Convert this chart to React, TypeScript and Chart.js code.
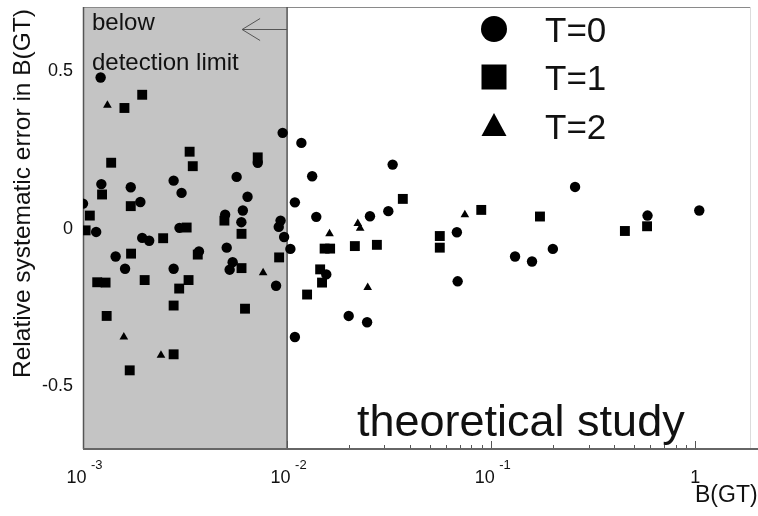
import React, { useEffect, useRef } from 'react';
import { Chart, registerables } from 'chart.js';

Chart.register(...registerables);

// ---- data (B(GT), relative systematic error) ----
const t0B = [0.00122, 0.00951, 0.01175, 0.01327, 0.0329, 0.2576, 0.00718, 0.00123, 0.001714, 0.00278, 0.00566, 0.00304, 0.0064, 0.01092, 0.001, 0.00191, 0.00497, 0.00607, 0.00597, 0.00929, 0.0091, 0.00967, 0.01038, 0.00116, 0.00297, 0.00195, 0.00211, 0.001445, 0.0037, 0.00506, 0.00541, 0.00523, 0.001607, 0.00278, 0.00883, 0.01092, 0.0139, 0.02547, 0.03133, 0.01556, 0.02004, 0.02466, 0.0679, 0.0685, 0.1309, 0.1585, 0.2005, 0.5834, 1.046];
const t0Err = [0.481, 0.305, 0.273, 0.167, 0.204, 0.133, 0.21, 0.142, 0.132, 0.153, 0.165, 0.114, 0.102, 0.084, 0.08, 0.085, 0.045, 0.058, 0.021, 0.026, 0.006, -0.026, -0.064, -0.01, 0.003, -0.029, -0.038, -0.088, -0.072, -0.06, -0.106, -0.13, -0.127, -0.127, -0.181, -0.344, 0.038, 0.04, 0.056, -0.145, -0.277, -0.297, -0.011, -0.167, -0.088, -0.104, -0.064, 0.042, 0.058];

const t1B = [0.001596, 0.00195, 0.001374, 0.00333, 0.00345, 0.00718, 0.00124, 0.001714, 0.00108, 0.00493, 0.00598, 0.00103, 0.00322, 0.00247, 0.00172, 0.00365, 0.00598, 0.00914, 0.001174, 0.00129, 0.002005, 0.00329, 0.00296, 0.00278, 0.00622, 0.001306, 0.00278, 0.001694, 0.0369, 0.01527, 0.01625, 0.02148, 0.02754, 0.01452, 0.01483, 0.01253, 0.056, 0.056, 0.0894, 0.1734, 0.452, 0.5805];
const t1Err = [0.384, 0.426, 0.21, 0.245, 0.199, 0.227, 0.109, 0.072, 0.042, 0.026, -0.016, -0.005, 0.004, -0.03, -0.079, -0.082, -0.125, -0.091, -0.17, -0.171, -0.163, -0.163, -0.19, -0.244, -0.254, -0.277, -0.399, -0.45, 0.095, -0.063, -0.063, -0.055, -0.051, -0.129, -0.171, -0.209, -0.023, -0.06, 0.06, 0.039, -0.007, 0.008];

const t2B = [0.001317, 0.00763, 0.001585, 0.00241, 0.0222, 0.0228, 0.01614, 0.02483, 0.0743];
const t2Err = [0.393, -0.14, -0.344, -0.402, 0.017, 0.002, -0.016, -0.187, 0.045];

const seriesLabels = ['T=0', 'T=1', 'T=2'];

// ---- axes ----
const xMajorTicks = [0.001, 0.01, 0.1, 1];
const xTickBases = ['10', '10', '10', '1'];
const xTickExps = ['-3', '-2', '-1', ''];
const xMinorTicks = [0.002, 0.003, 0.004, 0.005, 0.006, 0.007, 0.008, 0.009, 0.02, 0.03, 0.04, 0.05, 0.06, 0.07, 0.08, 0.09, 0.2, 0.3, 0.4, 0.5, 0.6, 0.7, 0.8, 0.9];
const yTickValues = [0.5, 0, -0.5];
const yTickLabels = ['0.5', '0', '-0.5'];
const detectionLimit = 0.01;

const FONT = '"Liberation Sans", Arial, Helvetica, sans-serif';
const INK = '#111';

function toPoints(xs: number[], ys: number[]) {
  return xs.map((v, i) => ({ x: v, y: ys[i] }));
}

const decorPlugin = {
  id: 'decor',
  beforeDatasetsDraw(chart: any) {
    const { ctx, chartArea: a, scales } = chart;
    const x = scales.x;
    ctx.save();
    // tick marks (inside)
    ctx.strokeStyle = '#555';
    ctx.lineWidth = 1;
    xMinorTicks.forEach((v) => {
      const px = Math.round(x.getPixelForValue(v)) + 0.5;
      ctx.beginPath();
      ctx.moveTo(px, a.bottom);
      ctx.lineTo(px, a.bottom - 4);
      ctx.stroke();
    });
    xMajorTicks.forEach((v) => {
      const px = Math.round(x.getPixelForValue(v)) + 0.5;
      ctx.beginPath();
      ctx.moveTo(px, a.bottom);
      ctx.lineTo(px, a.bottom - 8);
      ctx.stroke();
    });
    // shaded region below detection limit
    const gx = x.getPixelForValue(detectionLimit);
    ctx.fillStyle = '#c4c4c4';
    ctx.fillRect(a.left, a.top, gx - a.left, a.bottom - a.top);
    // frame lines
    ctx.strokeStyle = '#8a8a8a';
    ctx.lineWidth = 1;
    ctx.beginPath();
    ctx.moveTo(a.left, a.top + 0.5);
    ctx.lineTo(a.right, a.top + 0.5);
    ctx.stroke();
    ctx.strokeStyle = '#dcdcdc';
    ctx.beginPath();
    ctx.moveTo(a.right - 0.5, a.top);
    ctx.lineTo(a.right - 0.5, a.bottom);
    ctx.stroke();
    ctx.strokeStyle = '#555';
    ctx.lineWidth = 1.5;
    ctx.beginPath();
    ctx.moveTo(gx, a.top);
    ctx.lineTo(gx, a.bottom);
    ctx.stroke();
    ctx.beginPath();
    ctx.moveTo(a.left + 0.5, a.top);
    ctx.lineTo(a.left + 0.5, a.bottom);
    ctx.stroke();
    ctx.strokeStyle = '#666';
    ctx.lineWidth = 2;
    ctx.beginPath();
    ctx.moveTo(a.left, a.bottom);
    ctx.lineTo(chart.width, a.bottom);
    ctx.stroke();
    // arrow pointing into the shaded region
    ctx.strokeStyle = '#555';
    ctx.lineWidth = 1;
    const ay = a.top + 22.5;
    ctx.beginPath();
    ctx.moveTo(gx, ay);
    ctx.lineTo(gx - 45, ay);
    ctx.moveTo(gx - 27, ay - 11);
    ctx.lineTo(gx - 45, ay);
    ctx.lineTo(gx - 27, ay + 11);
    ctx.stroke();
    // annotation text
    ctx.fillStyle = INK;
    ctx.font = `24px ${FONT}`;
    ctx.textAlign = 'left';
    ctx.textBaseline = 'alphabetic';
    ctx.fillText('below', a.left + 9, 30);
    ctx.fillText('detection limit', a.left + 9, 70);
    ctx.restore();
  },
  afterDatasetsDraw(chart: any) {
    const { ctx, chartArea: a, scales } = chart;
    const x = scales.x;
    const y = scales.y;
    ctx.save();
    ctx.fillStyle = INK;
    // x tick labels with superscripts
    xMajorTicks.forEach((v, i) => {
      const px = x.getPixelForValue(v);
      if (xTickExps[i]) {
        ctx.font = `18px ${FONT}`;
        ctx.textAlign = 'right';
        ctx.fillText(xTickBases[i], px + 3.5, 483);
        ctx.font = `13px ${FONT}`;
        ctx.textAlign = 'left';
        ctx.fillText(xTickExps[i], px + 8, 469);
      } else {
        ctx.font = `18px ${FONT}`;
        ctx.textAlign = 'center';
        ctx.fillText(xTickBases[i], px, 483);
      }
    });
    // y tick labels
    ctx.font = `18px ${FONT}`;
    ctx.textAlign = 'right';
    ctx.textBaseline = 'middle';
    yTickValues.forEach((v, i) => {
      ctx.fillText(yTickLabels[i], a.left - 10, y.getPixelForValue(v));
    });
    // axis titles
    ctx.textBaseline = 'alphabetic';
    ctx.save();
    ctx.translate(30, 378);
    ctx.rotate(-Math.PI / 2);
    ctx.font = `24.5px ${FONT}`;
    ctx.textAlign = 'left';
    ctx.fillText('Relative systematic error in B(GT)', 0, 0);
    ctx.restore();
    ctx.font = `23px ${FONT}`;
    ctx.textAlign = 'left';
    ctx.fillText('B(GT)', 695, 502);
    // big label
    ctx.font = `45px ${FONT}`;
    ctx.fillText('theoretical study', 357, 436);
    // legend
    const lx = 494;
    const rows = [29, 77, 126];
    ctx.fillStyle = '#000';
    ctx.beginPath();
    ctx.arc(lx, rows[0], 13, 0, Math.PI * 2);
    ctx.fill();
    ctx.fillRect(lx - 12.5, rows[1] - 12.5, 25, 25);
    ctx.beginPath();
    ctx.moveTo(lx, rows[2] - 13);
    ctx.lineTo(lx + 12.5, rows[2] + 10);
    ctx.lineTo(lx - 12.5, rows[2] + 10);
    ctx.closePath();
    ctx.fill();
    ctx.fillStyle = INK;
    ctx.font = `35px ${FONT}`;
    ctx.textAlign = 'left';
    ctx.textBaseline = 'alphabetic';
    seriesLabels.forEach((lab, i) => {
      ctx.fillText(lab, 545, rows[i] + 13);
    });
    ctx.restore();
  },
};

export default function App() {
  const ref = useRef<HTMLCanvasElement>(null);
  useEffect(() => {
    if (!ref.current) return;
    const chart = new Chart(ref.current, {
      type: 'scatter',
      data: {
        datasets: [
          {
            label: seriesLabels[0],
            data: toPoints(t0B, t0Err),
            pointStyle: 'circle',
            pointRadius: 5.2,
            backgroundColor: '#000',
            borderColor: '#000',
            borderWidth: 0,
            clip: 0,
          },
          {
            label: seriesLabels[1],
            data: toPoints(t1B, t1Err),
            pointStyle: 'rect',
            pointRadius: 7,
            backgroundColor: '#000',
            borderColor: '#000',
            borderWidth: 0,
            clip: 0,
          },
          {
            label: seriesLabels[2],
            data: toPoints(t2B, t2Err),
            pointStyle: 'triangle',
            pointRadius: 5,
            backgroundColor: '#000',
            borderColor: '#000',
            borderWidth: 0,
            clip: 0,
          },
        ],
      },
      options: {
        animation: false,
        responsive: false,
        devicePixelRatio: 1,
        layout: { padding: { top: 7, right: 3, left: 0, bottom: 0 } },
        plugins: { legend: { display: false }, tooltip: { enabled: false } },
        scales: {
          x: {
            type: 'logarithmic',
            min: 0.001,
            max: 1.875,
            grid: { display: false },
            border: { display: false },
            ticks: { display: false },
            afterFit: (s: any) => { s.height = 67; },
          },
          y: {
            type: 'linear',
            min: -0.7,
            max: 0.705,
            grid: { display: false },
            border: { display: false },
            ticks: { display: false },
            afterFit: (s: any) => { s.width = 83; },
          },
        },
      },
      plugins: [decorPlugin],
    } as any);
    return () => chart.destroy();
  }, []);
  return (
    <div style={{ position: 'fixed', left: 0, top: 0, width: 758, height: 516, background: '#fff', overflow: 'hidden' }}>
      <canvas ref={ref} width={758} height={516} style={{ display: 'block', width: 758, height: 516 }} />
    </div>
  );
}
